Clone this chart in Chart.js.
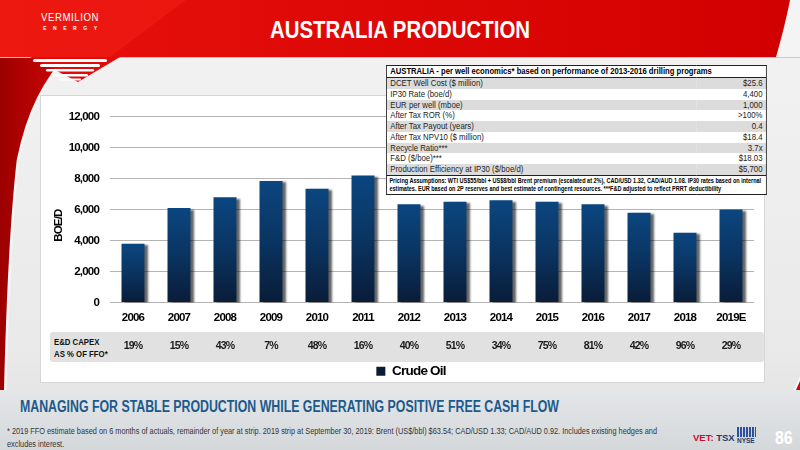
<!DOCTYPE html>
<html><head><meta charset="utf-8">
<script src="https://cdn.jsdelivr.net/npm/chart.js@4.4.1/dist/chart.umd.min.js"></script>
<style>
html,body{margin:0;padding:0;}
body{width:800px;height:450px;overflow:hidden;position:relative;background:linear-gradient(180deg,#f3f3f3 0%,#e9e9e9 80%,#dedede 100%);font-family:'Liberation Sans',Arial,sans-serif;}
#deco{position:absolute;left:0;top:0;}
.fit{position:absolute;white-space:nowrap;transform-origin:left top;}
#title{left:270px;top:16px;color:#fff;font-weight:bold;font-size:24px;}
#logo1{left:41px;top:11px;color:#fff;font-size:10.5px;letter-spacing:0.6px;}
#logo2{left:43px;top:25px;color:#fff;font-size:5px;letter-spacing:6.6px;font-weight:bold;}
#panel{position:absolute;left:40px;top:95px;width:725px;height:288px;background:#fff;border:1px solid #d6d6d6;box-sizing:border-box;}
#band{position:absolute;left:50px;top:332px;width:714px;height:30px;background:#e1e1e1;border-radius:3px;}
#capl{left:54px;top:336px;font-size:9.5px;font-weight:bold;line-height:12px;color:#111;}
#cw{position:absolute;left:40px;top:95px;width:725px;height:294px;}
#tw{position:absolute;left:386px;top:65px;transform-origin:left top;transform:scaleX(0.85);}
#econ{width:448px;border-collapse:collapse;border:1px solid #222;background:#fff;font-size:9.2px;color:#222;}
#econ td{padding:0 4px;height:10.75px;line-height:10.75px;white-space:nowrap;}
#econ td.v{text-align:right;}
#econ tr.g td{background:#dcdcdc;}
#econ tr.h td{font-weight:bold;font-size:9px;color:#000;height:11.2px;line-height:11.2px;border-bottom:1px solid #222;}
#econ tr.p td{font-weight:bold;font-size:6.5px;line-height:7.8px;padding:1px 3px 1px 3px;color:#000;border-top:1px solid #222;}
#foot{position:absolute;left:0;top:390px;width:800px;height:60px;background:linear-gradient(180deg,#e4e6e8 0%,#dde0e2 45%,#d5d8db 100%);}
#msg{left:20px;top:398px;color:#1c5a8c;font-weight:bold;font-size:16px;}
#note{left:7px;top:425px;color:#333;font-size:9.2px;line-height:12.5px;}
#vet{position:absolute;left:693px;top:432px;font-weight:bold;font-size:9.5px;color:#c8102e;}
#vet span{color:#1c3a6a;}
#nyse{position:absolute;left:737px;top:427px;width:19px;height:10px;background:repeating-linear-gradient(90deg,#2c4f9e 0 2px,transparent 2px 3px);}
#nyset{position:absolute;left:737px;top:437px;font-size:6.5px;font-weight:bold;color:#1c3a6a;}
#pg{left:775px;top:428px;color:#fff;font-weight:bold;font-size:18px;}
</style></head>
<body>
<svg id="deco" width="800" height="450">
  <defs>
    <linearGradient id="hg" x1="0" y1="0" x2="1" y2="0">
      <stop offset="0" stop-color="#e8100c"/><stop offset="1" stop-color="#d10000"/>
    </linearGradient>
    <linearGradient id="lg" x1="0" y1="0" x2="1" y2="0">
      <stop offset="0" stop-color="#9c0000"/><stop offset="1" stop-color="#d60606"/>
    </linearGradient>
  </defs>
  <path d="M0,50 L70,50 C45,80 28,110 18,160 C10,230 6,330 4,450 L0,450 Z" fill="url(#lg)"/>
  <path d="M70,52 C45,80 28,110 18,160 C10,230 6,330 4,450" fill="none" stroke="#f6f6f6" stroke-width="2.5"/>
  <rect x="0" y="0" width="800" height="57" fill="url(#hg)"/>
  <line x1="0" y1="57.5" x2="800" y2="57.5" stroke="#c9c9c9" stroke-width="1"/>
  <polygon points="0,0 186,0 110,57 0,57" fill="#ee1a12" opacity="0.8"/>
  <polygon points="30,57 120,57 78,82" fill="#e00c0a"/>
  <g fill="#ffffff">
    <rect x="33" y="59" width="74" height="3" rx="1.5"/>
    <rect x="40" y="64" width="60" height="3" rx="1.5"/>
    <rect x="46" y="69" width="48" height="2.6" rx="1.3"/>
    <rect x="52" y="74" width="36" height="2.4" rx="1.2"/>
    <rect x="59" y="78.5" width="22" height="2" rx="1"/>
  </g>
  <path d="M800,0 L790,0 C786,20 781,40 776,57 L800,57 Z" fill="#f4f4f4"/>
  <path d="M800,376 C790,398 775,425 759,450 L800,450 Z" fill="#f7f7f7"/>
  <path d="M800,381 C791,402 778,428 764,450 L800,450 Z" fill="#d10202"/>
</svg>
<div id="title" class="fit" data-w="260">AUSTRALIA PRODUCTION</div>
<div id="logo1" class="fit" data-w="58">VERMILION</div>
<div id="logo2" class="fit">ENERGY</div>
<div id="panel"></div>
<div id="band"></div>
<div id="capl" class="fit" data-s="0.82">E&amp;D CAPEX<br>AS % OF FFO*</div>
<div id="cw"><canvas id="c"></canvas></div>
<div id="tw"><table id="econ">
<tr class="h"><td colspan="2">AUSTRALIA - per well economics* based on performance of 2013-2016 drilling programs</td></tr>
<tr class="g"><td>DCET Well Cost ($ million)</td><td class="v">$25.6</td></tr>
<tr><td>IP30 Rate (boe/d)</td><td class="v">4,400</td></tr>
<tr class="g"><td>EUR per well (mboe)</td><td class="v">1,000</td></tr>
<tr><td>After Tax ROR (%)</td><td class="v">&gt;100%</td></tr>
<tr class="g"><td>After Tax Payout (years)</td><td class="v">0.4</td></tr>
<tr><td>After Tax NPV10 ($ million)</td><td class="v">$18.4</td></tr>
<tr class="g"><td>Recycle Ratio***</td><td class="v">3.7x</td></tr>
<tr><td>F&amp;D ($/boe)***</td><td class="v">$18.03</td></tr>
<tr class="g"><td>Production Efficiency at IP30 ($/boe/d)</td><td class="v">$5,700</td></tr>
<tr class="p"><td colspan="2">Pricing Assumptions: WTI US$55/bbl + US$8/bbl Brent premium (escalated at 2%), CAD/USD 1.32, CAD/AUD 1.08. IP30 rates based on internal<br>estimates. EUR based on 2P reserves and best estimate of contingent resources. ***F&amp;D adjusted to reflect PRRT deductibility</td></tr>
</table></div>
<div id="foot"></div>
<div id="msg" class="fit" data-w="539">MANAGING FOR STABLE PRODUCTION WHILE GENERATING POSITIVE FREE CASH FLOW</div>
<div id="note" class="fit" data-s="0.80">* 2019 FFO estimate based on 6 months of actuals, remainder of year at strip. 2019 strip at September 30, 2019: Brent (US$/bbl) $63.54; CAD/USD 1.33; CAD/AUD 0.92. Includes existing hedges and<br>excludes interest.</div>
<div id="vet">VET: <span>TSX</span></div>
<div id="nyse"></div>
<div id="nyset">NYSE</div>
<div id="pg" class="fit" data-s="0.88">86</div>
<script>
const years = ['2006','2007','2008','2009','2010','2011','2012','2013','2014','2015','2016','2017','2018','2019E'];
const crudeOil = [3800,6100,6800,7850,7350,8200,6350,6500,6600,6500,6350,5800,4500,6000];
const capexPct = ['19%','15%','43%','7%','48%','16%','40%','51%','34%','75%','81%','42%','96%','29%'];
const yTicks = [0,2000,4000,6000,8000,10000,12000];
const seriesName = 'Crude Oil';

document.querySelectorAll('.fit').forEach(el => {
  const w = el.getBoundingClientRect().width;
  let s = el.dataset.s ? parseFloat(el.dataset.s) : (el.dataset.w ? parseFloat(el.dataset.w) / w : 1);
  el.style.transform = 'scaleX(' + s + ')';
});

const FONT = "'Liberation Sans',Arial,sans-serif";
const LS = '-0.8px';

function barFill(ctx){
  const chart = ctx.chart;
  if (ctx.type !== 'data' || !chart.chartArea) return '#0d3a6b';
  const ys = chart.scales.y;
  const top = ys.getPixelForValue(ctx.parsed ? ctx.parsed.y : ctx.raw);
  const bot = ys.getPixelForValue(0);
  const g = chart.ctx.createLinearGradient(0, top, 0, bot);
  g.addColorStop(0, '#0b4680');
  g.addColorStop(0.5, '#0a3461');
  g.addColorStop(1, '#0a1c38');
  return g;
}

const condense = {
  id: 'condense',
  beforeLayout(chart){ chart.ctx.letterSpacing = LS; },
  beforeDraw(chart){ chart.ctx.letterSpacing = LS; }
};
const shadowPlugin = {
  id: 'barShadow',
  beforeDatasetsDraw(chart){
    const c = chart.ctx; c.save();
    c.shadowColor = 'rgba(0,0,0,0.6)';
    c.shadowOffsetX = 3.5; c.shadowOffsetY = 1.5; c.shadowBlur = 2;
  },
  afterDatasetsDraw(chart){ chart.ctx.restore(); }
};
const titleShift = {
  id: 'titleShift',
  beforeDraw(chart){
    const y = chart.scales.y;
    if (y && !y.__shifted){
      const orig = y.drawTitle.bind(y);
      y.drawTitle = function(){ const c = chart.ctx; c.save(); c.translate(-20,16); orig(); c.restore(); };
      y.__shifted = true;
    }
  }
};

new Chart(document.getElementById('c'), {
  type: 'bar',
  data: {
    labels: years,
    datasets: [{
      label: seriesName,
      data: crudeOil,
      backgroundColor: barFill,
      borderWidth: 0,
      barPercentage: 0.5,
      categoryPercentage: 1.0
    }]
  },
  options: {
    responsive: true,
    maintainAspectRatio: false,
    animation: false,
    devicePixelRatio: 1,
    layout: { padding: { left: 28, right: 11, top: 21.7, bottom: 1 } },
    plugins: {
      legend: {
        position: 'bottom',
        labels: { boxWidth: 9, boxHeight: 9, padding: 8, color: '#000', font: { family: FONT, size: 13.5, weight: 'bold' } }
      },
      tooltip: { enabled: false }
    },
    scales: {
      y: {
        min: 0, max: 12000,
        afterBuildTicks(s){ s.ticks = yTicks.map(v => ({ value: v })); },
        afterFit(s){ s.width = 42; },
        ticks: { padding: 11, color: '#000', font: { family: FONT, size: 11.5, weight: 'bold' },
                 callback: v => v.toLocaleString('en-US') },
        grid: { color: '#b4b4b4', lineWidth: 1, drawTicks: false },
        border: { display: false },
        title: { display: true, text: 'BOE/D', color: '#000', font: { family: FONT, size: 11.5, weight: 'bold' }, padding: { top: 4, bottom: 0 } }
      },
      x: {
        afterFit(s){ s.height = 26; },
        ticks: { padding: 8, color: '#000', autoSkip: false, maxRotation: 0, font: { family: FONT, size: 11.5, weight: 'bold' } },
        grid: { display: false, drawTicks: false },
        border: { display: false }
      },
      x2: {
        type: 'category',
        position: 'bottom',
        labels: capexPct,
        offset: true,
        afterFit(s){ s.height = 28; },
        ticks: { padding: 11, color: '#1a1a1a', autoSkip: false, maxRotation: 0, font: { family: FONT, size: 10.5, weight: 'bold' } },
        grid: { display: false, drawTicks: false },
        border: { display: false }
      }
    }
  },
  plugins: [condense, shadowPlugin, titleShift]
});
</script>
</body></html>
